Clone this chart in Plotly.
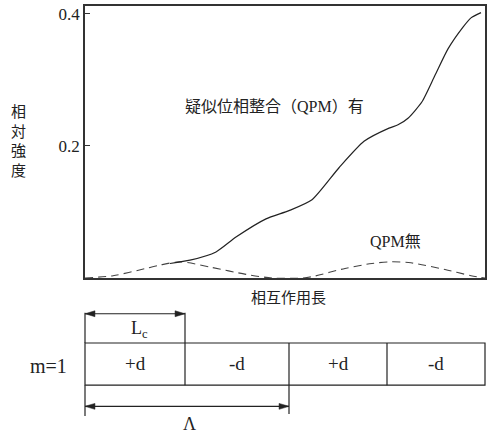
import plotly.graph_objects as go

# ---- data (x in units of coherence length Lc) ----
qpm_x = [0.85, 1.05, 1.31, 1.51, 1.81, 2.04, 2.27, 2.54, 2.79, 3.04, 3.13, 3.23, 3.37, 3.50, 3.63, 3.78, 3.86, 3.96]
qpm_y = [0.022, 0.027, 0.0395, 0.062, 0.0896, 0.102, 0.1185, 0.167, 0.207, 0.227, 0.232, 0.242, 0.267, 0.307, 0.347, 0.380, 0.394, 0.402]

noqpm_x = [0, 0.28, 0.61, 0.75, 0.95, 1.27, 1.61, 1.87, 2.17, 2.27, 2.60, 2.87, 3.06, 3.26, 3.60, 3.86, 4.0]
noqpm_y = [0, 0.0035, 0.0145, 0.0195, 0.0245, 0.016, 0.0055, 0, 0, 0.002, 0.0145, 0.022, 0.0245, 0.023, 0.0128, 0.0035, 0]

y_tickvals = [0.2, 0.4]
y_ticktext = ["0.2", "0.4"]

# domain structure diagram (boundaries in Lc units)
seg_labels = ["+d", "-d", "+d", "-d"]
seg_bounds = [0, 1.0, 2.04, 3.02, 4.0]
lc_span = [0, 1.0]
period_span = [0, 2.04]

SERIF = "Liberation Serif, Times New Roman, serif"
JP = "Liberation Serif, Noto Sans CJK JP, serif"
INK = "#222"

W, H = 491, 437
ML, MR, MT, MB = 85, 4, 4, 159
PW = W - ML - MR
PH = H - MT - MB
XMAX = 4.0


def xp_px(px):
    return (px - ML) / PW


def yp(py):
    return (H - MB - py) / PH


def xu(u):
    return u / XMAX


fig = go.Figure()
fig.add_trace(go.Scatter(x=noqpm_x, y=noqpm_y, mode="lines",
                         line=dict(color="#444", width=1.1, dash="8px,5px", shape="spline", smoothing=0.8),
                         hoverinfo="skip", showlegend=False))
fig.add_trace(go.Scatter(x=qpm_x, y=qpm_y, mode="lines",
                         line=dict(color=INK, width=1.2, shape="spline", smoothing=0.6),
                         hoverinfo="skip", showlegend=False))

ann = []
shapes = []


def label(text, x, y, family, size, **kw):
    ann.append(dict(text=text, x=x, y=y, xref="paper", yref="paper", showarrow=False,
                    xanchor="center", yanchor="middle",
                    font=dict(family=family, size=size, color=INK), **kw))


# axis labels / curve labels
label("相<br>対<br>強<br>度", xp_px(18), yp(140), JP, 15, align="center")
label("疑似位相整合（QPM）有", xp_px(275), yp(105), JP, 16)
label("QPM無", xp_px(397), yp(241), JP, 16)
label("相互作用長", xp_px(290), yp(298), JP, 15)


def vline(u, py0, py1):
    shapes.append(dict(type="line", xref="paper", yref="paper", x0=xu(u), x1=xu(u),
                       y0=yp(py0), y1=yp(py1), line=dict(color=INK, width=1.2)))


def dim_arrow(u0, u1, py, head_len=10, head_half=3):
    y = yp(py)
    shapes.append(dict(type="line", xref="paper", yref="paper", x0=xu(u0), x1=xu(u1),
                       y0=y, y1=y, line=dict(color=INK, width=1.1)))
    dx = head_len / PW
    dy = head_half / PH
    xa, xb = xu(u0), xu(u1)
    shapes.append(dict(type="path", xref="paper", yref="paper",
                       path=f"M {xa},{y} L {xa + dx},{y + dy} L {xa + dx},{y - dy} Z",
                       fillcolor=INK, line=dict(color=INK, width=0.5)))
    shapes.append(dict(type="path", xref="paper", yref="paper",
                       path=f"M {xb},{y} L {xb - dx},{y + dy} L {xb - dx},{y - dy} Z",
                       fillcolor=INK, line=dict(color=INK, width=0.5)))


# domain boxes
BOX_TOP, BOX_BOT = 343.5, 386
shapes.append(dict(type="rect", xref="paper", yref="paper", x0=xu(seg_bounds[0]), x1=xu(seg_bounds[-1]),
                   y0=yp(BOX_BOT), y1=yp(BOX_TOP), line=dict(color=INK, width=1.2)))
for b in seg_bounds[1:-1]:
    vline(b, BOX_TOP, BOX_BOT)
for i, lab in enumerate(seg_labels):
    c = (seg_bounds[i] + seg_bounds[i + 1]) / 2
    label(lab, xu(c), yp(364), SERIF, 19)
label("m=1", xp_px(48), yp(367), SERIF, 20)

# Lc dimension
vline(lc_span[0], 313, BOX_TOP)
vline(lc_span[1], 313, BOX_TOP)
dim_arrow(lc_span[0], lc_span[1], 314)
label("L<sub>c</sub>", xu((lc_span[0] + lc_span[1]) / 2) + 0.012, yp(330), SERIF, 18)

# Lambda dimension
vline(period_span[0], BOX_BOT, 417)
vline(period_span[1], BOX_BOT, 415)
dim_arrow(period_span[0], period_span[1], 407.3)
label("Λ", xp_px(190), yp(425), SERIF, 18)

fig.update_layout(
    width=W, height=H,
    margin=dict(l=ML, r=MR, t=MT, b=MB, pad=0),
    paper_bgcolor="white", plot_bgcolor="white",
    showlegend=False,
    annotations=ann, shapes=shapes,
    xaxis=dict(range=[0, XMAX], showticklabels=False, ticks="", showgrid=False, zeroline=False,
               showline=True, mirror=True, linecolor="#333", linewidth=1.5, fixedrange=True),
    yaxis=dict(range=[0, 0.412], tickvals=y_tickvals, ticktext=y_ticktext, ticks="inside", ticklen=5,
               tickwidth=1.3, tickcolor="#333", showgrid=False, zeroline=False,
               showline=True, mirror=True, linecolor="#333", linewidth=1.5,
               tickfont=dict(family=SERIF, size=17, color=INK), fixedrange=True),
)

fig.write_html("out.html", config={"displayModeBar": False},
               post_script="document.body.style.margin='0';document.body.style.overflow='hidden';")
